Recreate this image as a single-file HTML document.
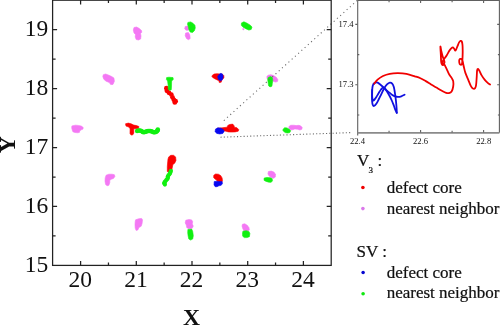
<!DOCTYPE html>
<html><head><meta charset="utf-8"><style>
html,body{margin:0;padding:0;background:#fff;overflow:hidden}
svg{display:block;will-change:transform}
text{font-family:"Liberation Serif",serif;fill:#111}
</style></head><body>
<svg width="500" height="325" viewBox="0 0 500 325">
<rect width="500" height="325" fill="#fff"/>

<!-- main data blobs -->
<g id="blobs">
<path fill="#F478F4" stroke="#F478F4" stroke-width="0.6" stroke-linejoin="round" d="M134,27.5 L136.5,27 L139,28.3 L141.5,30.5 L141.8,32.3 L140.5,33.5 L141,36 L140.6,39 L138.5,40 L136.2,39.5 L135.2,37 L135.5,34.5 L134,33 L133.3,30Z"/>
<path fill="#F478F4" stroke="#F478F4" stroke-width="0.6" stroke-linejoin="round" d="M185.2,26.5 L187.9,26.1 L188.9,27.9 L188.4,30.2 L186.1,30.2 L184.7,28.9Z"/>
<path fill="#F478F4" stroke="#F478F4" stroke-width="0.6" stroke-linejoin="round" d="M185.6,33 L188.4,32.5 L189.8,34.9 L190.2,38.5 L188.4,39.7 L186.5,38.5 L185.2,35.8Z"/>
<path fill="#F478F4" stroke="#F478F4" stroke-width="0.6" stroke-linejoin="round" d="M242.8,28.6 L243.9,28.8 L243.9,29.8 L242.9,29.8Z"/>
<path fill="#F478F4" stroke="#F478F4" stroke-width="0.6" stroke-linejoin="round" d="M103.3,74.7 L105.6,74 L108.9,75.2 L111.6,76.5 L113.9,77.9 L114.4,81.2 L113,84.4 L110.7,84.6 L109.3,82.5 L106.1,81.2 L103.8,79.3 L102.8,76.5Z"/>
<path fill="#F478F4" stroke="#F478F4" stroke-width="0.6" stroke-linejoin="round" d="M266.8,76.5 L268.2,75.2 L270.9,74.7 L273.7,75.6 L276.5,77.5 L277.9,79.8 L277.4,81.6 L275.5,82.1 L273.2,81.2 L271.9,80.2 L269.1,79.8 L267.2,78.9Z"/>
<path fill="#F478F4" stroke="#F478F4" stroke-width="0.6" stroke-linejoin="round" d="M71.9,125.9 L75.4,125.2 L78.3,125.4 L81.3,126.1 L83.2,127.4 L83,129.1 L81.3,129.8 L79.6,131.1 L79.6,132.3 L77.8,132.8 L74.9,132.5 L72.9,131.8 L72.2,129.8 L71.7,127.9Z"/>
<path fill="#F478F4" stroke="#F478F4" stroke-width="0.6" stroke-linejoin="round" d="M288.9,126.5 L290.7,125.3 L293.5,125.2 L296.2,125.6 L299,125.3 L300.9,126.1 L302.2,127.5 L301.8,129.3 L299.9,130 L297.6,129.3 L294.9,128.9 L292.5,129.8 L290.2,129.8 L288.9,128.4Z"/>
<path fill="#F478F4" stroke="#F478F4" stroke-width="0.6" stroke-linejoin="round" d="M106.1,175.2 L108.9,174.2 L112.1,174.2 L114.4,174.7 L114.9,176.5 L113.5,178.4 L111.2,179.3 L109.8,180.2 L109.8,182.5 L108.9,185.3 L107,185.8 L105.6,184.4 L105,181.2 L105.2,177.9Z"/>
<path fill="#F478F4" stroke="#F478F4" stroke-width="0.6" stroke-linejoin="round" d="M268.4,171.5 L271.2,171.1 L273.9,172 L275.5,174.3 L275.3,177.1 L273.5,178.3 L271.2,177.5 L269.3,176.2 L267.9,173.9Z"/>
<path fill="#F478F4" stroke="#F478F4" stroke-width="0.6" stroke-linejoin="round" d="M135.6,219.8 L138.9,218.7 L141.6,218.4 L142.5,219.8 L142.1,223.5 L141.2,226.2 L138.9,227.6 L137.9,229.9 L136.1,230.4 L135.2,228.1 L135,224.4 L135.2,221.6Z"/>
<path fill="#F478F4" stroke="#F478F4" stroke-width="0.6" stroke-linejoin="round" d="M185.8,220.2 L189,219.5 L191.7,219.9 L192.7,221.8 L192.2,224 L193.3,226.1 L192.2,228.3 L189,228.8 L186.8,227.7 L186.3,225.1 L185.2,222.9Z"/>
<path fill="#F478F4" stroke="#F478F4" stroke-width="0.6" stroke-linejoin="round" d="M242.5,224.2 L244.8,223.8 L247.1,225.2 L248.9,227.5 L249.4,229.8 L248,231.2 L245.7,231.4 L243.9,230.7 L242.9,228.9 L242,226.1Z"/>
<path fill="#FA0000" stroke="#FA0000" stroke-width="0.6" stroke-linejoin="round" d="M212.4,75.2 L214.2,74 L217,73.7 L219.8,73.9 L222.5,74.3 L223.9,75.7 L223.9,78 L222.1,79.4 L221.2,82.2 L219.3,82.6 L218.9,80.8 L216.1,79.4 L213.3,78 L211.9,76.6Z"/>
<path fill="#FA0000" stroke="#FA0000" stroke-width="0.6" stroke-linejoin="round" d="M125.5,123.8 L128.3,123.1 L131.1,123.8 L133.8,125.1 L136.6,125.6 L138.9,126.5 L138.5,128.4 L136.1,128.8 L133.8,128.8 L133.8,133 L132.9,134.8 L131.1,135.1 L130,133.5 L130.1,128.8 L128.8,127 L126,126.1Z"/>
<path fill="#FA0000" stroke="#FA0000" stroke-width="0.6" stroke-linejoin="round" d="M217.3,128.2 L222.2,127.8 L227.1,127.2 L227.8,125.4 L229.6,124.5 L232.7,124.1 L233.9,125.4 L234.5,127.2 L237,127.8 L238.8,129.7 L238.2,131.2 L235.1,131.9 L231.4,132.1 L228.4,131.9 L225.9,131.2 L223.5,130.7 L221,130.3 L217.9,129.7Z"/>
<path fill="#FA0000" stroke="#FA0000" stroke-width="0.6" stroke-linejoin="round" d="M168.7,156.9 L170.8,155.3 L173.5,155.3 L175.6,156.9 L176,160.4 L174.7,163.2 L172.9,164.5 L172.2,168 L171.5,171.5 L169.4,172.9 L167.3,171.5 L167.3,166.6 L167.7,161.8 L168,159Z"/>
<path fill="#FA0000" stroke="#FA0000" stroke-width="0.6" stroke-linejoin="round" d="M213.8,175.2 L215.6,174 L218.4,174.2 L220.7,175.6 L222.1,177.9 L222.5,180.7 L221.8,182.2 L219.5,182.3 L217.5,181.6 L216.5,180 L215,179 L213.6,177.5Z"/>
<circle fill="#FA0000" cx="166.4" cy="88.2" r="2.4"/><circle fill="#FA0000" cx="166.9" cy="90.8" r="2.4"/><circle fill="#FA0000" cx="169" cy="92.8" r="2.4"/><circle fill="#FA0000" cx="171.3" cy="94.6" r="2.4"/><circle fill="#FA0000" cx="172.5" cy="97.3" r="2.4"/><circle fill="#FA0000" cx="173.8" cy="99.8" r="2.4"/><circle fill="#FA0000" cx="175.6" cy="101.2" r="2.4"/><circle fill="#FA0000" cx="174.8" cy="102.4" r="2.4"/>
<path fill="#10F010" stroke="#10F010" stroke-width="0.6" stroke-linejoin="round" d="M187.9,22.4 L190.7,21.9 L193,23.3 L194.9,25.2 L195.3,27.9 L194.4,30.7 L192.5,32.5 L190.2,32.1 L188.9,29.8 L188.4,27 L187.5,24.2Z"/>
<path fill="#10F010" stroke="#10F010" stroke-width="0.6" stroke-linejoin="round" d="M241.5,22.9 L243.9,21.8 L246.6,22.9 L250.3,25.2 L252,27.1 L251.2,29.4 L248.9,30.1 L246.2,28.9 L242.9,27.1 L241.3,25.2Z"/>
<path fill="#10F010" stroke="#10F010" stroke-width="0.6" stroke-linejoin="round" d="M166.6,77.6 L169,77.2 L173,77.6 L173.3,79.5 L171.6,81 L171.5,86 L171.3,89.7 L169.8,90.4 L168.3,89.5 L168.1,85 L167.6,81 L166.4,79.5Z"/>
<path fill="#10F010" stroke="#10F010" stroke-width="0.6" stroke-linejoin="round" d="M268.2,77.5 L270.5,76.5 L272.3,77.5 L272.8,80.2 L272.3,83.5 L271.9,86.2 L270,86.9 L268.6,85.8 L268.2,83 L267.7,79.8Z"/>
<path fill="#10F010" stroke="#10F010" stroke-width="0.6" stroke-linejoin="round" d="M283.3,128.9 L284.7,127.7 L287,127.9 L289.3,129.3 L290.7,130.7 L289.8,132.5 L287.9,133 L285.6,132.7 L283.8,131.6 L282.8,130.2Z"/>
<path fill="#10F010" stroke="#10F010" stroke-width="0.6" stroke-linejoin="round" d="M264.2,178 L267,177.5 L270.2,177.7 L272.1,178.5 L272.5,180.8 L271.2,182.3 L268.9,182.2 L266.1,181.4 L264,180.3Z"/>
<path fill="#10F010" stroke="#10F010" stroke-width="0.6" stroke-linejoin="round" d="M187.9,229.4 L191.7,229.1 L192.7,231.5 L193.3,235.8 L192.7,239 L190.6,240.1 L188.8,239 L188.1,235.8 L187.7,232.6Z"/>
<path fill="#10F010" stroke="#10F010" stroke-width="0.6" stroke-linejoin="round" d="M242.9,231.2 L246.2,230.7 L248.9,231.4 L249.9,233.5 L249.4,236.7 L247.1,237.6 L244.3,237.6 L242.7,236.2 L242.5,233.5Z"/>
<circle fill="#10F010" cx="170.9" cy="170.8" r="2.1"/><circle fill="#10F010" cx="170.5" cy="172" r="2.1"/><circle fill="#10F010" cx="170.1" cy="173.1" r="2.1"/><circle fill="#10F010" cx="169.4" cy="174.3" r="2.1"/><circle fill="#10F010" cx="168.4" cy="175.4" r="2.1"/><circle fill="#10F010" cx="167.8" cy="176.5" r="2.1"/><circle fill="#10F010" cx="167.9" cy="177.7" r="2.1"/><circle fill="#10F010" cx="167.4" cy="178.9" r="2.1"/><circle fill="#10F010" cx="166.4" cy="179.9" r="2.1"/><circle fill="#10F010" cx="165.5" cy="181" r="2.1"/><circle fill="#10F010" cx="164.6" cy="182.2" r="2.1"/><circle fill="#10F010" cx="164.2" cy="183.3" r="2.1"/><circle fill="#10F010" cx="164.9" cy="184.6" r="2.1"/>
<circle fill="#10F010" cx="137.1" cy="131" r="2.25"/><circle fill="#10F010" cx="138.4" cy="130.6" r="2.25"/><circle fill="#10F010" cx="139.6" cy="130.5" r="2.25"/><circle fill="#10F010" cx="140.8" cy="130.8" r="2.25"/><circle fill="#10F010" cx="141.8" cy="131.3" r="2.25"/><circle fill="#10F010" cx="142.8" cy="131.9" r="2.25"/><circle fill="#10F010" cx="143.8" cy="132.3" r="2.25"/><circle fill="#10F010" cx="144.8" cy="132.1" r="2.25"/><circle fill="#10F010" cx="145.8" cy="131.8" r="2.25"/><circle fill="#10F010" cx="146.9" cy="131.3" r="2.25"/><circle fill="#10F010" cx="148" cy="131" r="2.25"/><circle fill="#10F010" cx="149.1" cy="130.9" r="2.25"/><circle fill="#10F010" cx="150.2" cy="131" r="2.25"/><circle fill="#10F010" cx="151.4" cy="131.3" r="2.25"/><circle fill="#10F010" cx="152.5" cy="131.8" r="2.25"/><circle fill="#10F010" cx="153.6" cy="132.2" r="2.25"/><circle fill="#10F010" cx="154.7" cy="132.3" r="2.25"/><circle fill="#10F010" cx="155.9" cy="131.9" r="2.25"/><circle fill="#10F010" cx="157" cy="131.2" r="2.25"/><circle fill="#10F010" cx="157.6" cy="130.2" r="2.25"/><circle fill="#10F010" cx="157.8" cy="129.4" r="2.25"/>
<path fill="#0808F0" stroke="#0808F0" stroke-width="0.6" stroke-linejoin="round" d="M218.9,74.8 L220.2,73.4 L222.1,73.7 L223,75.2 L223,78 L222.1,79.9 L220.7,80.8 L218.9,79.9 L217.9,78 L217.9,76.2Z"/>
<path fill="#0808F0" stroke="#0808F0" stroke-width="0.6" stroke-linejoin="round" d="M215.5,129.1 L217.9,127.8 L221,128.2 L223.5,129.7 L224.1,131.5 L222.8,133.4 L219.8,134 L216.7,133.4 L215.1,131.5Z"/>
<path fill="#0808F0" stroke="#0808F0" stroke-width="0.6" stroke-linejoin="round" d="M214.2,181.6 L217,181.2 L219.8,181.6 L222.1,181.6 L222.5,183.5 L221.2,185.3 L218.9,185.8 L217,186.7 L215.2,186.7 L214,184.9Z"/>

</g>
<!-- dotted zoom lines -->
<g stroke="#6a6a6a" stroke-width="1.1" fill="none">
<line x1="222.8" y1="121.5" x2="357.5" y2="0.2" stroke-dasharray="1.1 3.25" stroke-dashoffset="-1.4"/>
<line x1="220.5" y1="137.2" x2="350.5" y2="132.6" stroke-dasharray="1.1 2.2"/>
</g>
<!-- legend dots -->
<circle cx="362.9" cy="187.5" r="1.8" fill="#F00000"/>
<circle cx="362.9" cy="208.6" r="1.8" fill="#DA78EA"/>
<circle cx="363.1" cy="272.6" r="1.75" fill="#0505D0"/>
<circle cx="363.1" cy="293.8" r="1.8" fill="#10E810"/>

<!-- main frame -->
<g stroke="#222" stroke-width="1.25" fill="none">
<rect x="52.6" y="0.2" width="278.6" height="265.2"/>
<path d="M80.6,265.4v-4.5 M136.3,265.4v-4.5 M192,265.4v-4.5 M247.7,265.4v-4.5 M303.4,265.4v-4.5
M108.45,265.4v-3 M164.15,265.4v-3 M219.85,265.4v-3 M275.55,265.4v-3
M80.6,0v4.5 M136.3,0v4.5 M192,0v4.5 M247.7,0v4.5 M303.4,0v4.5
M108.45,0v3 M164.15,0v3 M219.85,0v3 M275.55,0v3
M52.6,206.45h4.5 M52.6,147.5h4.5 M52.6,88.55h4.5 M52.6,29.6h4.5
M52.6,235.9h3 M52.6,177h3 M52.6,118h3 M52.6,59.1h3
M331.2,206.45h-4.5 M331.2,147.5h-4.5 M331.2,88.55h-4.5 M331.2,29.6h-4.5
M331.2,235.9h-3 M331.2,177h-3 M331.2,118h-3 M331.2,59.1h-3"/>
</g>

<!-- main tick labels -->
<g font-size="23.5" text-anchor="end">
<text x="48.2" y="271.6">15</text>
<text x="48.2" y="212.65">16</text>
<text x="48.2" y="153.7">17</text>
<text x="48.2" y="94.75">18</text>
<text x="48.2" y="35.8">19</text>
</g>
<g font-size="23.5" text-anchor="middle">
<text x="80.2" y="287">20</text>
<text x="135.9" y="287">21</text>
<text x="191.6" y="287">22</text>
<text x="247.3" y="287">23</text>
<text x="303" y="287">24</text>
</g>
<text x="191.6" y="325.1" font-size="23.6" font-weight="bold" text-anchor="middle">X</text>
<text transform="translate(15.0,144.7) rotate(-90)" font-size="23.6" font-weight="bold" text-anchor="middle">Y</text>

<!-- inset -->
<g fill="none" stroke-linecap="round" stroke-linejoin="round">
<path stroke="#1010E0" stroke-width="1.8" d="M373.8,83.8 C373.63,84.08 373.07,84.52 372.8,85.5 C372.53,86.48 372.33,88.03 372.2,89.7 C372.07,91.37 372.02,93.58 372,95.5 C371.98,97.42 371.97,99.62 372.1,101.2 C372.23,102.78 372.48,104.2 372.8,105 C373.12,105.8 373.42,106.2 374,106 C374.58,105.8 375.48,104.97 376.3,103.8 C377.12,102.63 378.08,100.57 378.9,99 C379.72,97.43 380.33,96.15 381.2,94.4 C382.07,92.65 383.13,90.17 384.1,88.5 C385.07,86.83 386.05,85.38 387,84.4 C387.95,83.42 388.93,82.73 389.8,82.6 C390.67,82.47 391.52,82.82 392.2,83.6 C392.88,84.38 393.42,85.5 393.9,87.3 C394.38,89.1 394.75,92.05 395.1,94.4 C395.45,96.75 395.75,99.07 396,101.4 C396.25,103.73 396.47,106.5 396.6,108.4 C396.73,110.3 396.77,112.07 396.8,112.8"/>
<path stroke="#1010E0" stroke-width="1.8" d="M373.6,83.8 C373.92,83.6 374.82,82.78 375.5,82.6 C376.18,82.42 376.92,82.38 377.7,82.7 C378.48,83.02 379.23,83.73 380.2,84.5 C381.17,85.27 382.47,86.35 383.5,87.3 C384.53,88.25 385.42,89.32 386.4,90.2 C387.38,91.08 388.42,91.82 389.4,92.6 C390.38,93.38 391.33,94.27 392.3,94.9 C393.27,95.53 394.23,96.07 395.2,96.4 C396.17,96.73 397.08,96.92 398.1,96.9 C399.12,96.88 400.22,96.67 401.3,96.3 C402.38,95.93 404.05,94.97 404.6,94.7"/>
<path stroke="#1010E0" stroke-width="1.8" d="M372.2,90 C372.2,91.17 372.05,95.28 372.2,97 C372.35,98.72 372.77,99.8 373.1,100.3 C373.43,100.8 373.68,100.5 374.2,100 C374.72,99.5 375.47,98.43 376.2,97.3 C376.93,96.17 377.8,94.5 378.6,93.2 C379.4,91.9 380.18,90.48 381,89.5 C381.82,88.52 382.62,87.13 383.5,87.3 C384.38,87.47 385.35,89.17 386.3,90.5 C387.25,91.83 388.28,93.63 389.2,95.3 C390.12,96.97 391.02,98.75 391.8,100.5 C392.58,102.25 393.27,104.13 393.9,105.8 C394.53,107.47 395.12,109.33 395.6,110.5 C396.08,111.67 396.6,112.42 396.8,112.8"/>
<path stroke="#F00000" stroke-width="1.8" d="M374.3,83.6 C374.85,82.93 376.15,80.87 377.6,79.6 C379.05,78.33 380.97,76.97 383,76 C385.03,75.03 387.3,74.27 389.8,73.8 C392.3,73.33 395.23,73.18 398,73.2 C400.77,73.22 403.6,73.38 406.4,73.9 C409.2,74.42 412.47,75.58 414.8,76.3 C417.13,77.02 418.57,77.4 420.4,78.2 C422.23,79 424.02,80.07 425.8,81.1 C427.58,82.13 429.32,83.32 431.1,84.4 C432.88,85.48 434.7,86.53 436.5,87.6 C438.3,88.67 440.28,89.92 441.9,90.8 C443.52,91.68 445.03,92.52 446.2,92.9 C447.37,93.28 448,93.35 448.9,93.1 C449.8,92.85 450.88,92.5 451.6,91.4 C452.32,90.3 452.93,88.22 453.2,86.5 C453.47,84.78 453.47,82.53 453.2,81.1 C452.93,79.67 452.23,78.97 451.6,77.9 C450.97,76.83 450.12,75.95 449.4,74.7 C448.68,73.45 447.93,71.72 447.3,70.4 C446.67,69.08 446.08,67.73 445.6,66.8 C445.12,65.87 444.97,65.12 444.4,64.8 C443.83,64.48 442.73,65.37 442.2,64.9 C441.67,64.43 441.42,63.48 441.2,62 C440.98,60.52 441.03,58.57 440.9,56 C440.77,53.43 440.32,47.35 440.4,46.6 C440.48,45.85 441.03,49.9 441.4,51.5 C441.77,53.1 442.2,54.85 442.6,56.2 C443,57.55 443.48,58.58 443.8,59.6 C444.12,60.62 444.57,61.57 444.5,62.3 C444.43,63.03 443.75,64.05 443.4,64 C443.05,63.95 442.4,62.67 442.4,62 C442.4,61.33 442.67,61.13 443.4,60 C444.13,58.87 445.82,56.73 446.8,55.2 C447.78,53.67 448.57,51.95 449.3,50.8 C450.03,49.65 450.58,48.87 451.2,48.3 C451.82,47.73 452.5,47.32 453,47.4 C453.5,47.48 453.83,48.27 454.2,48.8 C454.57,49.33 454.87,50.52 455.2,50.6 C455.53,50.68 455.8,50.08 456.2,49.3 C456.6,48.52 457.12,47.05 457.6,45.9 C458.08,44.75 458.6,43.23 459.1,42.4 C459.6,41.57 460.15,41.05 460.6,40.9 C461.05,40.75 461.48,40.82 461.8,41.5 C462.12,42.18 462.35,43.45 462.5,45 C462.65,46.55 462.68,48.97 462.7,50.8 C462.72,52.63 462.65,54.47 462.6,56 C462.55,57.53 462.52,58.63 462.4,60 C462.28,61.37 462.27,63.43 461.9,64.2 C461.53,64.97 460.63,64.88 460.2,64.6 C459.77,64.32 459.43,63.33 459.3,62.5 C459.17,61.67 459.12,60.2 459.4,59.6 C459.68,59 460.48,58.73 461,58.9 C461.52,59.07 462.13,59.75 462.5,60.6 C462.87,61.45 462.95,62.85 463.2,64 C463.45,65.15 463.63,66.02 464,67.5 C464.37,68.98 464.72,70.92 465.4,72.9 C466.08,74.88 467.2,77.25 468.1,79.4 C469,81.55 470,84.28 470.8,85.8 C471.6,87.32 472.18,88.1 472.9,88.5 C473.62,88.9 474.57,88.82 475.1,88.2 C475.63,87.58 475.83,86.63 476.1,84.8 C476.37,82.97 476.53,79.58 476.7,77.2 C476.87,74.82 476.88,71.9 477.1,70.5 C477.32,69.1 477.62,68.75 478,68.8 C478.38,68.85 478.82,69.75 479.4,70.8 C479.98,71.85 480.6,73.58 481.5,75.1 C482.4,76.62 483.72,78.57 484.8,79.9 C485.88,81.23 487.12,82.33 488,83.1 C488.88,83.87 489.75,84.27 490.1,84.5"/>
</g>
<g stroke="#606060" stroke-width="1.1" fill="none">
<path d="M357.7,135.5 V0.5 H499.4 V132.8"/>
<path d="M357.7,132.9 H499.4" stroke="#8a8a8a" stroke-width="1.8"/>
<path d="M357.5,24.4h-2.2 M357.5,84.8h-2.2 M357.5,54.6h1.8 M357.5,115h1.8
M499.4,24.4h-2.2 M499.4,84.8h-2.2 M499.4,54.6h-1.5 M499.4,115h-1.5
M420.6,132.6v-2.5 M483.6,132.6v-2.5 M389.05,132.6v-1.8 M452.1,132.6v-1.8
M420.6,0.5v2.5 M483.6,0.5v2.5 M389.05,0.5v1.8 M452.1,0.5v1.8"/>
</g>
<g font-size="8.6" fill="#222">
<text x="353.6" y="27.3" text-anchor="end">17.4</text>
<text x="353.6" y="86.8" text-anchor="end">17.3</text>
<text x="357.5" y="143.6" text-anchor="middle">22.4</text>
<text x="420.6" y="143.6" text-anchor="middle">22.6</text>
<text x="483.8" y="143.6" text-anchor="middle">22.8</text>
</g>

<!-- legend -->
<g font-size="17" stroke="#111" stroke-width="0.22">
<text x="357" y="165.9">V</text>
<text x="368.4" y="172.9" font-size="9">3</text>
<text x="377.6" y="165.9">:</text>
<text x="386.7" y="193">defect core</text>
<text x="386.7" y="214.4">nearest neighbor</text>
<text x="356.5" y="257">SV :</text>
<text x="386.7" y="277.8">defect core</text>
<text x="386.7" y="298.3">nearest neighbor</text>
</g>
</svg>
</body></html>
